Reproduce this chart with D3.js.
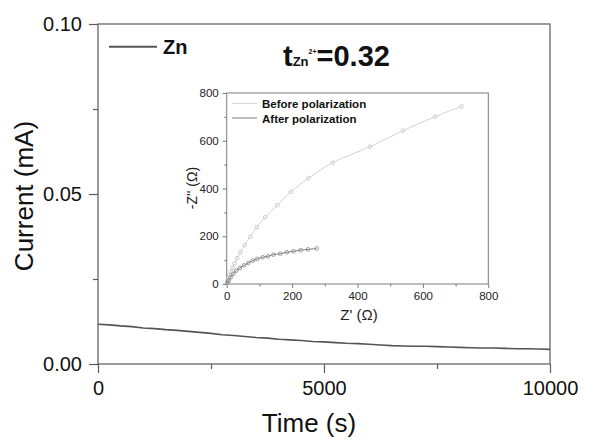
<!DOCTYPE html>
<html>
<head>
<meta charset="utf-8">
<script src="https://cdn.jsdelivr.net/npm/d3@7"></script>
<style>
  html, body { margin: 0; padding: 0; background: #fff; }
  svg { display: block; font-family: "Liberation Sans", Arial, sans-serif; }
</style>
</head>
<body>
<svg id="chart" width="598" height="441"></svg>
<script>
// Chronoamperometry of the Zn symmetric cell (current vs. time)
const timeS = [0,250,500,750,1000,1250,1500,1750,2000,2250,2500,2750,3000,3250,3500,3750,4000,4250,4500,4750,
  5000,5250,5500,5750,6000,6250,6500,6750,7000,7250,7500,7750,8000,8250,8500,8750,9000,9250,9500,9750,10000];
const currentMA = [0.0117,0.0115,0.0112,0.0110,0.0106,0.0104,0.0101,0.0099,0.0096,0.0093,0.0090,0.0086,0.0084,0.0081,0.0078,0.0076,0.0073,0.0071,0.0069,0.0066,
  0.0065,0.0063,0.0061,0.0060,0.0058,0.0056,0.0054,0.0053,0.0052,0.0052,0.0051,0.0050,0.0049,0.0048,0.0047,0.0047,0.0046,0.0045,0.0045,0.0044,0.0043];
const timeTicks = [0, 5000, 10000];
const timeMinorTicks = [2500, 7500];
const currentTicks = [0, 0.05, 0.10];
const currentMinorTicks = [0.025, 0.075];

// Nyquist plots before / after polarization (Z', -Z'')
const beforeZre = [0,1,3,6,9,13,18,24,32,42,55,72,92,118,155,196,250,324,438,539,637,718];
const beforeZim = [0,5,14,26,38,52,68,86,108,133,163,198,238,280,330,386,443,508,575,642,701,744];
const afterZre = [0,2,6,12,20,29,40,53,66,80,93,110,126,143,164,184,204,226,249,275];
const afterZim = [0,6,14,28,42,56,67,78,88,98,105,112,116,123,127,133,137,142,145,149];
const zTicks = [0, 200, 400, 600, 800];
const zMinorTicks = [100, 300, 500, 700];

const svg = d3.select("#chart");

// ---------- main panel ----------
const M = {left: 98, right: 550, top: 24, bottom: 364};
const x = d3.scaleLinear().domain([0, 10000]).range([M.left, M.right]);
const y = d3.scaleLinear().domain([0, 0.10]).range([M.bottom, M.top]);
const axisColor = "#5a5a5a";

function styleAxis(g, fontSize) {
  g.select(".domain").remove();
  g.selectAll(".tick line").attr("stroke", axisColor).attr("stroke-width", 1.2);
  g.selectAll(".tick text").attr("fill", "#111").style("font-size", fontSize + "px")
    .style("font-family", "'Liberation Sans', Arial, sans-serif");
}

// frame
svg.append("rect").attr("x", M.left).attr("y", M.top)
  .attr("width", M.right - M.left).attr("height", M.bottom - M.top)
  .attr("fill", "none").attr("stroke", axisColor).attr("stroke-width", 1.2);

svg.append("g").attr("transform", `translate(0,${M.bottom})`)
  .call(d3.axisBottom(x).tickValues(timeTicks).tickFormat(d3.format("d")).tickSize(9).tickPadding(8))
  .call(g => styleAxis(g, 20));
svg.append("g").attr("transform", `translate(0,${M.bottom})`)
  .call(d3.axisBottom(x).tickValues(timeMinorTicks).tickFormat("").tickSize(5))
  .call(g => styleAxis(g, 20));
svg.append("g").attr("transform", `translate(${M.left},0)`)
  .call(d3.axisLeft(y).tickValues(currentTicks).tickFormat(d3.format(".2f")).tickSize(9).tickPadding(7))
  .call(g => styleAxis(g, 20));
svg.append("g").attr("transform", `translate(${M.left},0)`)
  .call(d3.axisLeft(y).tickValues(currentMinorTicks).tickFormat("").tickSize(5))
  .call(g => styleAxis(g, 20));

svg.append("text").attr("x", 309).attr("y", 432).attr("text-anchor", "middle")
  .style("font-size", "26px").attr("fill", "#111").text("Time (s)");
svg.append("text").attr("transform", "translate(33,196) rotate(-90)").attr("text-anchor", "middle")
  .style("font-size", "26px").attr("fill", "#111").text("Current (mA)");

const mainData = timeS.map((t, i) => [t, currentMA[i]]);
svg.append("path").datum(mainData)
  .attr("fill", "none").attr("stroke", "#555").attr("stroke-width", 1.6)
  .attr("d", d3.line().x(d => x(d[0])).y(d => y(d[1])));

// legend
svg.append("line").attr("x1", 109).attr("x2", 157).attr("y1", 46.7).attr("y2", 46.7)
  .attr("stroke", "#555").attr("stroke-width", 2);
svg.append("text").attr("x", 163).attr("y", 54).style("font-size", "20px").style("font-weight", "bold")
  .attr("fill", "#111").text("Zn");

// transference number
const tn = svg.append("text").attr("x", 283).attr("y", 65.7).attr("fill", "#111").style("font-weight", "bold");
tn.append("tspan").style("font-size", "29px").text("t");
tn.append("tspan").style("font-size", "13px").text("Zn");
tn.append("tspan").style("font-size", "7px").attr("dy", -12).text("2+");
tn.append("tspan").style("font-size", "29px").attr("dy", 12).text("=0.32");

// ---------- inset ----------
const I = {left: 226.7, right: 488.3, top: 93, bottom: 284};
const xi = d3.scaleLinear().domain([0, 800]).range([I.left, I.right]);
const yi = d3.scaleLinear().domain([0, 800]).range([I.bottom, I.top]);
const insetAxis = "#7a7a7a";

function styleInset(g) {
  g.select(".domain").remove();
  g.selectAll(".tick line").attr("stroke", insetAxis).attr("stroke-width", 1);
  g.selectAll(".tick text").attr("fill", "#222").style("font-size", "11.5px")
    .style("font-family", "'Liberation Sans', Arial, sans-serif");
}

svg.append("rect").attr("x", I.left).attr("y", I.top)
  .attr("width", I.right - I.left).attr("height", I.bottom - I.top)
  .attr("fill", "#fff").attr("stroke", insetAxis).attr("stroke-width", 1);

svg.append("g").attr("transform", `translate(0,${I.bottom})`)
  .call(d3.axisBottom(xi).tickValues(zTicks).tickSize(4).tickPadding(4)).call(styleInset);
svg.append("g").attr("transform", `translate(0,${I.bottom})`)
  .call(d3.axisBottom(xi).tickValues(zMinorTicks).tickFormat("").tickSize(2.5)).call(styleInset);
svg.append("g").attr("transform", `translate(${I.left},0)`)
  .call(d3.axisLeft(yi).tickValues(zTicks).tickSize(4).tickPadding(4)).call(styleInset);
svg.append("g").attr("transform", `translate(${I.left},0)`)
  .call(d3.axisLeft(yi).tickValues(zMinorTicks).tickFormat("").tickSize(2.5)).call(styleInset);

svg.append("text").attr("x", 359).attr("y", 320).attr("text-anchor", "middle")
  .style("font-size", "15px").attr("fill", "#222").text("Z' (Ω)");
svg.append("text").attr("transform", "translate(197,188) rotate(-90)").attr("text-anchor", "middle")
  .style("font-size", "14px").attr("fill", "#222").text("-Z'' (Ω)");

const nyq = d3.line().x(d => xi(d[0])).y(d => yi(d[1])).curve(d3.curveCatmullRom);
const series = [
  {re: beforeZre, im: beforeZim, line: "#d4d4d4", mark: "#c4c4c4"},
  {re: afterZre, im: afterZim, line: "#7c7c7c", mark: "#8a8a8a"}
];
series.forEach(s => {
  const pts = s.re.map((r, i) => [r, s.im[i]]);
  svg.append("path").datum(pts).attr("fill", "none").attr("stroke", s.line).attr("stroke-width", 1).attr("d", nyq);
  svg.append("g").selectAll("circle").data(pts.slice(1)).join("circle")
    .attr("cx", d => xi(d[0])).attr("cy", d => yi(d[1])).attr("r", 1.9)
    .attr("fill", "none").attr("stroke", s.mark).attr("stroke-width", 0.8);
});

// inset legend
const legendRows = [
  {label: "Before polarization", color: "#d4d4d4", y: 103.5},
  {label: "After polarization", color: "#7c7c7c", y: 118}
];
legendRows.forEach(r => {
  svg.append("line").attr("x1", 232).attr("x2", 257).attr("y1", r.y).attr("y2", r.y)
    .attr("stroke", r.color).attr("stroke-width", 1);
  svg.append("text").attr("x", 262).attr("y", r.y + 4.5).style("font-size", "11.5px")
    .style("font-weight", "bold").attr("fill", "#111").text(r.label);
});
</script>
</body>
</html>
